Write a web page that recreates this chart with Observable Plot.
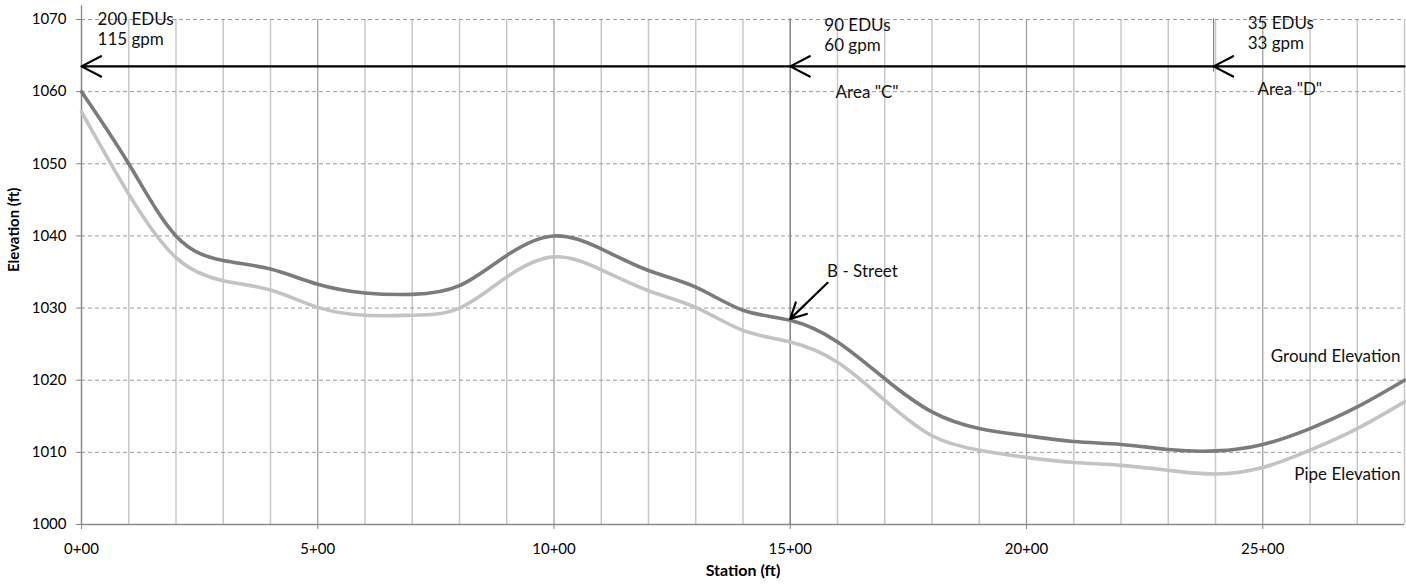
<!DOCTYPE html>
<html>
<head>
<meta charset="utf-8">
<script src="https://cdn.jsdelivr.net/npm/d3@7"></script>
<script src="https://cdn.jsdelivr.net/npm/@observablehq/plot@0.6"></script>
<style>
  html, body { margin: 0; padding: 0; background: #fff; }
  #chart svg { display: block; }
</style>
</head>
<body>
<div id="chart"></div>
<script>
// ---- data ----
const stations = [0,1,2,3,4,5,6,7,8,9,10,11,12,13,14,15,16,17,18,19,20,21,22,23,24,25,26,27,28];
const groundElevation = [1060, 1050, 1040, 1036.6, 1035.4, 1033.3, 1032.1, 1031.9, 1033.1, 1037.3, 1040, 1038.2, 1035.2, 1032.9, 1029.7, 1028.3, 1025.3, 1020.2, 1015.6, 1013.3, 1012.3, 1011.5, 1011.1, 1010.4, 1010.2, 1011.1, 1013.3, 1016.3, 1020];
const pipeElevation = [1057.2, 1045.8, 1037.0, 1033.8, 1032.5, 1030.1, 1029, 1029, 1030, 1034.3, 1037.1, 1035.3, 1032.4, 1030.1, 1026.9, 1025.3, 1022.5, 1017.2, 1012.3, 1010.3, 1009.3, 1008.6, 1008.2, 1007.5, 1007.0, 1007.9, 1010.3, 1013.3, 1017];
const xTicks = [0, 5, 10, 15, 20, 25];
const yTicks = [1000, 1010, 1020, 1030, 1040, 1050, 1060, 1070];
const majorStations = [0, 5, 10, 15, 20, 25];
const areaMarkers = [0, 15, 23.96];
const flowArrowY = 1063.5;
const flowSegments = [[28, 23.96], [23.96, 15], [15, 0]];
const flowLabels = ["200 EDUs\n115 gpm", "90 EDUs\n60 gpm", "35 EDUs\n33 gpm"];
const flowLabelX = [0.34, 15.72, 24.68];
const flowLabelY = [1071.26, 1070.43, 1070.61];
const areaLabels = ['Area "C"', 'Area "D"'];
const areaLabelX = [15.96, 24.89];
const areaLabelY = [1060.86, 1061.14];
const streetLabel = "B - Street";
const streetLabelPos = [15.78, 1036.05];
const streetArrow = [15.79, 1033.5, 15.0, 1028.5];
const seriesNames = ["Ground Elevation", "Pipe Elevation"];
const seriesLabelX = [27.915, 27.915];
const seriesLabelY = [1024.13, 1007.91];

// ---- tables built from the arrays ----
const rows = stations.map((s, i) => ({s, ground: groundElevation[i], pipe: pipeElevation[i]}));
const minorStations = stations.filter(s => !majorStations.includes(s));
const flowArrows = flowSegments.map(([a, b]) => ({x1: a, x2: b, y: flowArrowY}));
const flowText = flowLabels.map((t, i) => ({t, x: flowLabelX[i], y: flowLabelY[i]}));
const areaText = areaLabels.map((t, i) => ({t, x: areaLabelX[i], y: areaLabelY[i]}));
const seriesText = seriesNames.map((t, i) => ({t, x: seriesLabelX[i], y: seriesLabelY[i]}));

const FONT = "Lato, 'Open Sans', sans-serif";

const chart = Plot.plot({
  width: 1406,
  height: 586,
  marginLeft: 81,
  marginRight: 2,
  marginTop: 19,
  marginBottom: 62,
  style: {fontFamily: FONT, fontSize: "15px", color: "#000", background: "#fff", overflow: "visible"},
  x: {domain: [0, 28]},
  y: {domain: [1000, 1070]},
  marks: [
    // gridlines
    Plot.ruleX(minorStations, {stroke: "#c8c8c8", strokeWidth: 1.5}),
    Plot.ruleX(majorStations, {stroke: "#a0a0a0", strokeWidth: 1.3}),
    Plot.ruleY(yTicks.filter(d => d > 1000), {stroke: "#9a9a9a", strokeWidth: 1, strokeDasharray: "4,3"}),
    Plot.ruleY([1000], {stroke: "#8a8a8a", strokeWidth: 1.3}),
    // area marker lines
    Plot.ruleX([areaMarkers[0]], {y1: 1000, y2: 1071.9, stroke: "#888", strokeWidth: 1.3}),
    Plot.ruleX([areaMarkers[1]], {y1: 1000, y2: 1070.1, stroke: "#808080", strokeWidth: 1.2}),
    Plot.ruleX([areaMarkers[2]], {y1: 1062.7, y2: 1070.1, stroke: "#777", strokeWidth: 1}),
    // axes
    Plot.axisY({ticks: yTicks, tickSize: 5, tickPadding: 10, tickFormat: d => String(d), label: null, stroke: "#888", fontSize: 15}),
    Plot.axisX({ticks: xTicks, tickSize: 5, tickPadding: 14, tickFormat: d => `${d}+00`, label: null, stroke: "#888", fontSize: 15}),
    // series
    Plot.line(rows, {x: "s", y: "pipe", stroke: "#c3c3c3", strokeWidth: 3.6, curve: "natural"}),
    Plot.line(rows, {x: "s", y: "ground", stroke: "#7b7b7b", strokeWidth: 3.6, curve: "natural"}),
    // flow arrows
    Plot.arrow(flowArrows, {x1: "x1", x2: "x2", y1: "y", y2: "y", stroke: "#000", strokeWidth: 2.2, headLength: 15, headAngle: 55}),
    Plot.arrow([streetArrow], {x1: d => d[0], y1: d => d[1], x2: d => d[2], y2: d => d[3], stroke: "#000", strokeWidth: 2.2, headLength: 13, headAngle: 55}),
    // annotations
    Plot.text(flowText, {x: "x", y: "y", text: "t", textAnchor: "start", lineAnchor: "top", lineHeight: 1.18, fontSize: 17, fill: "#111"}),
    Plot.text(areaText, {x: "x", y: "y", text: "t", textAnchor: "start", lineAnchor: "top", fontSize: 17, fill: "#111"}),
    Plot.text([streetLabel], {x: streetLabelPos[0], y: streetLabelPos[1], text: d => d, textAnchor: "start", lineAnchor: "top", fontSize: 17, fill: "#111"}),
    Plot.text(seriesText, {x: "x", y: "y", text: "t", textAnchor: "end", lineAnchor: "top", fontSize: 17, fill: "#111"}),
    // axis titles
    Plot.text(["Station (ft)"], {frameAnchor: "bottom", dy: 51, text: d => d, fontWeight: "bold", fontSize: 16}),
    Plot.text(["Elevation (ft)"], {frameAnchor: "left", dx: -67, rotate: -90, text: d => d, fontWeight: "bold", fontSize: 15})
  ]
});
document.getElementById("chart").appendChild(chart);
</script>
</body>
</html>
